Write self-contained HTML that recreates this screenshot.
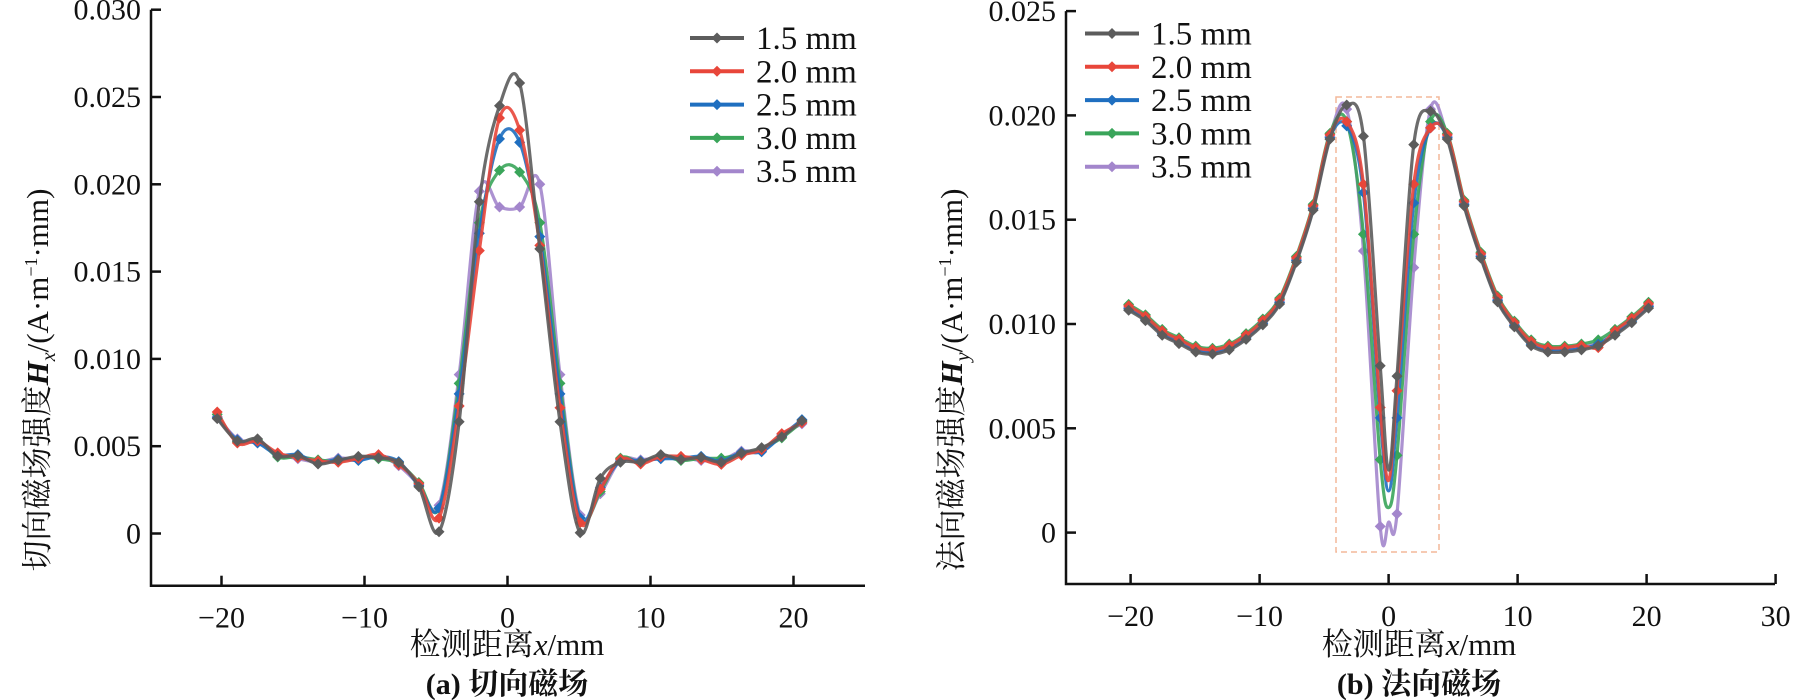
<!DOCTYPE html>
<html><head><meta charset="utf-8"><style>
html,body{margin:0;padding:0;background:#fff;}
svg{display:block;}
text{font-family:"Liberation Serif","Noto Serif CJK SC",serif;fill:#111;}
.cj{font-family:"Liberation Serif","Noto Serif CJK SC",serif;}
</style></head><body>
<svg id="s" width="1806" height="700" viewBox="0 0 1806 700" xmlns="http://www.w3.org/2000/svg"></svg>
<script>
const S=document.getElementById('s');let h='';
const cols=['#5c5c5c','#e8463a','#1f6fc0','#3aa55a','#a386cc'];
const names=['1.5 mm','2.0 mm','2.5 mm','3.0 mm','3.5 mm'];
function cr(p){let d='M'+p[0][0]+','+p[0][1];for(let i=0;i<p.length-1;i++){const a=p[Math.max(0,i-1)],b=p[i],c=p[i+1],e=p[Math.min(p.length-1,i+2)];
d+=' C'+(b[0]+(c[0]-a[0])/6)+','+(b[1]+(c[1]-a[1])/6)+' '+(c[0]-(e[0]-b[0])/6)+','+(c[1]-(e[1]-b[1])/6)+' '+c[0]+','+c[1];}return d;}
function dia(x,y,c){const r=5.5;return `<path d="M${x},${y-r}L${x+r},${y}L${x},${y+r}L${x-r},${y}Z" fill="${c}"/>`;}
function panel(o){
 const X=v=>o.x0+(v-o.xmin)*o.sx, Y=v=>o.y0-v*o.sy;
 h+=`<path d="M${o.ax},${Y(o.ytop)}V${o.ab}H${o.ar}" fill="none" stroke="#111" stroke-width="2.5"/>`;
 o.yt.forEach(t=>{h+=`<line x1="${o.ax}" x2="${o.ax+10}" y1="${Y(t[0])}" y2="${Y(t[0])}" stroke="#111" stroke-width="2.5"/><text x="${o.ax-10}" y="${Y(t[0])+10}" font-size="30" text-anchor="end">${t[1]}</text>`;});
 o.xt.forEach(t=>{h+=`<line x1="${X(t)}" x2="${X(t)}" y1="${o.ab}" y2="${o.ab-10}" stroke="#111" stroke-width="2.5"/><text x="${X(t)}" y="${o.ab+42}" font-size="30" text-anchor="middle">${t<0?'−'+(-t):t}</text>`;});
 o.extra&&o.extra(X,Y);
 for(let s=4;s>=0;s--){const pts=o.xs.map((x,i)=>[X(x),Y(o.data[s][i])]);
  let cp=pts.slice();
  if(o.mid){const m=o.mid[s];cp=pts.slice(0,o.mi+1).concat([[X(m[0]),Y(m[1])]]).concat(pts.slice(o.mi+1));}
  h+=`<path d="${cr(cp)}" fill="none" stroke="${cols[s]}" stroke-width="3.2" opacity="0.9"/>`;
  pts.forEach(p=>h+=dia(p[0],p[1],cols[s]));}
 for(let s=0;s<5;s++){const y=o.ly+s*33.3;h+=`<line x1="${o.lx}" x2="${o.lx+54}" y1="${y}" y2="${y}" stroke="${cols[s]}" stroke-width="4"/>`+dia(o.lx+27,y,cols[s])+`<text x="${o.lx+66}" y="${y+11}" font-size="33">${names[s]}</text>`;}
 h+=`<text class="cj" x="${o.xlc}" y="655" font-size="31" text-anchor="middle">检测距离<tspan font-style="italic">x</tspan>/mm</text>`;
 h+=`<text class="cj" x="${o.xlc}" y="694" font-size="30" font-weight="bold" text-anchor="middle">${o.cap}</text>`;
 h+=`<text class="cj" transform="translate(${o.ylx},${o.ylc}) rotate(-90)" font-size="31" text-anchor="middle">${o.ylab}</text>`;
}
const xsL=[];for(let i=0;i<30;i++)xsL.push(-20.3+1.41*i);
const baseL=[0.0067,0.0053,0.0053,0.0045,0.0044,0.0041,0.0042,0.0043,0.0044,0.0040,0.0028,0.0007,0.009,0.018,0.022,0.022,0.018,0.009,0.0007,0.0028,0.0042,0.0041,0.0044,0.0043,0.0043,0.0042,0.0046,0.0048,0.0056,0.0064];
const cenL=[[0.0064,0.0190,0.0245,0.0258,0.0163,0.0064,0.0001,0.0031],[0.0073,0.0162,0.0238,0.0231,0.0165,0.0072,0.0005,0.0026],[0.0080,0.0172,0.0226,0.0224,0.0170,0.0080,0.0009,0.0025],[0.0086,0.0178,0.0208,0.0207,0.0178,0.0086,0.0010,0.0024],[0.0091,0.0196,0.0187,0.0187,0.0200,0.0091,0.0010,0.0024]];
const dL=cenL.map((c,s)=>{const a=baseL.slice();a[11]=c[6]+0.0005;a[12]=c[0];a[13]=c[1];a[14]=c[2];a[15]=c[3];a[16]=c[4];a[17]=c[5];a[18]=c[6];a[19]=c[7];if(s==1){a[25]=0.0039;a[0]=0.0069;}if(s==0){a[11]=0.0001;}return a.map((v,i)=>(i>=12&&i<=17)?v:v+((i*7+s*3)%5-2)*0.00006);});
panel({x0:507.5,xmin:0,sx:14.3,y0:533.5,sy:17460,ax:151,ab:585.7,ar:865,ytop:0.030,
 yt:[[0.030,'0.030'],[0.025,'0.025'],[0.020,'0.020'],[0.015,'0.015'],[0.010,'0.010'],[0.005,'0.005'],[0,'0']],
 xt:[-20,-10,0,10,20],xs:xsL,data:dL,lx:690,ly:38,xlc:507,cap:'(a) 切向磁场',ylx:48,ylc:380,
 ylab:'切向磁场强度<tspan font-weight="bold" font-style="italic">H</tspan><tspan font-style="italic" font-size="20" dy="7">x</tspan><tspan dy="-7">/(A·m</tspan><tspan font-size="18" dy="-11">−1</tspan><tspan dy="11">·mm)</tspan>'});
const xsR=[];for(let i=0;i<32;i++)xsR.push(-20.15+1.3*i);
const baseR=[0.0108,0.0103,0.0096,0.0092,0.0088,0.0087,0.0089,0.0094,0.0101,0.0111,0.0131,0.0156,0.0190,0.0200,0.016,0.005,0.005,0.016,0.0200,0.0190,0.0158,0.0133,0.0112,0.0100,0.0091,0.0088,0.0088,0.0089,0.0091,0.0096,0.0102,0.0109];
const cenR=[[0.0205,0.0190,0.0080,0.0075,0.0186,0.0202],[0.0197,0.0167,0.0060,0.0068,0.0167,0.0194],[0.0195,0.0163,0.0055,0.0055,0.0158,0.0194],[0.0197,0.0143,0.0035,0.0037,0.0143,0.0197],[0.0203,0.0135,0.0003,0.0009,0.0127,0.0203]];
const dR=cenR.map((c,s)=>{const a=baseR.slice();for(let k=0;k<6;k++)a[13+k]=c[k];if(s==1)a[28]=0.0088;return a.map((v,i)=>(i>=13&&i<=18)?v:v+((i*5+s*3)%5-2)*0.00007);});
panel({x0:1388.6,xmin:0,sx:12.9,y0:532.6,sy:20860,ax:1066,ab:584,ar:1775,ytop:0.025,
 yt:[[0.025,'0.025'],[0.020,'0.020'],[0.015,'0.015'],[0.010,'0.010'],[0.005,'0.005'],[0,'0']],
 xt:[-20,-10,0,10,20,30],xs:xsR,data:dR,lx:1085,ly:33.5,xlc:1419,cap:'(b) 法向磁场',ylx:962,ylc:380,
 mi:15,mid:[[0,0.0030],[0,0.0025],[0,0.0020],[0,0.0012],[0,0.0005]],
 ylab:'法向磁场强度<tspan font-weight="bold" font-style="italic">H</tspan><tspan font-style="italic" font-size="20" dy="7">y</tspan><tspan dy="-7">/(A·m</tspan><tspan font-size="18" dy="-11">−1</tspan><tspan dy="11">·mm)</tspan>',
 extra:(X,Y)=>{h+=`<rect x="1336" y="97" width="103" height="455" fill="none" stroke="#f4b89a" stroke-width="1.5" stroke-dasharray="6,4"/>`;}});
S.innerHTML=h;
</script>
</body></html>
